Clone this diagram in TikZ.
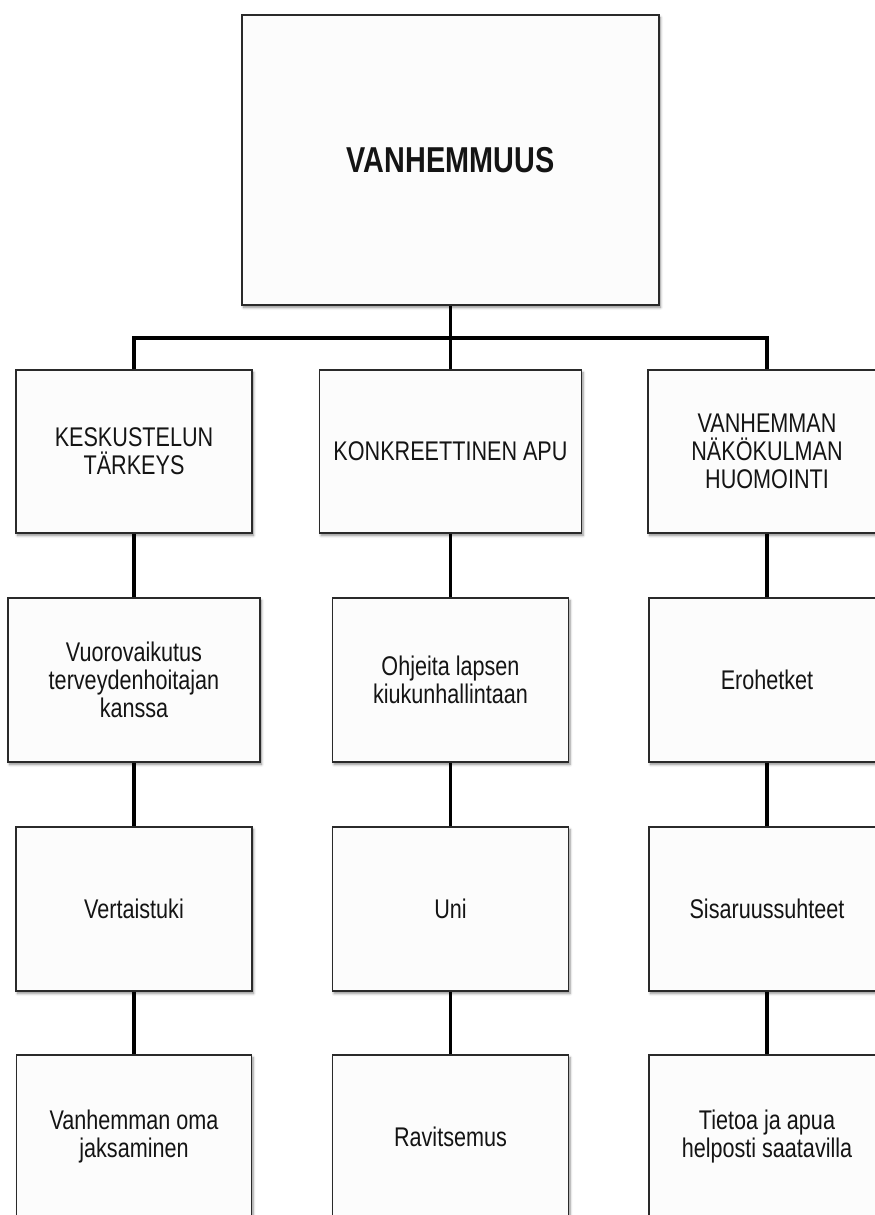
\documentclass[tikz,border=0pt]{standalone}
\usepackage{fontspec}
\setmainfont{Liberation Sans}[FakeStretch=0.8]
\usetikzlibrary{shadows.blur}
\definecolor{boxline}{HTML}{2A2A2A}
\definecolor{boxfill}{HTML}{FCFCFC}
\definecolor{ink}{HTML}{141414}
\begin{document}
\begin{tikzpicture}[x=1pt,y=-1pt,
  box/.style={draw=boxline, line width=1.8pt, fill=boxfill, text=ink,
    align=center, inner sep=0pt, minimum height=164pt,
    blur shadow={shadow xshift=1.5pt, shadow yshift=-2.5pt,
      shadow blur steps=6, shadow blur radius=2.5pt, shadow opacity=45},
    font=\fontsize{27}{28}\selectfont},
  link/.style={draw=black, line width=3.4pt}]
\useasboundingbox (0,0) rectangle (875,1215);
\clip (0,0) rectangle (875,1215);

% root
\node[box, minimum width=417pt, minimum height=290pt,
      font=\fontsize{36}{40}\selectfont\bfseries] (top) at (450.5,160) {VANHEMMUUS};

% first level
\node[box, minimum width=236pt, minimum height=163pt] (r1a) at (134,451.5) {KESKUSTELUN\\TÄRKEYS};
\node[box, minimum width=262pt, minimum height=163pt] (r1b) at (450.5,451.5) {KONKREETTINEN APU};
\node[box, minimum width=238pt, minimum height=163pt] (r1c) at (767,451.5) {VANHEMMAN\\NÄKÖKULMAN\\HUOMOINTI};

% second level
\node[box, minimum width=252pt] (r2a) at (134,680) {Vuorovaikutus\\terveydenhoitajan\\kanssa};
\node[box, minimum width=236pt] (r2b) at (450.5,680) {Ohjeita lapsen\\kiukunhallintaan};
\node[box, minimum width=236pt] (r2c) at (767,680) {Erohetket};

% third level
\node[box, minimum width=236pt] (r3a) at (134,909) {Vertaistuki};
\node[box, minimum width=236pt] (r3b) at (450.5,909) {Uni};
\node[box, minimum width=236pt] (r3c) at (767,909) {Sisaruussuhteet};

% fourth level
\node[box, minimum width=235pt] (r4a) at (134,1137) {Vanhemman oma\\jaksaminen};
\node[box, minimum width=236pt] (r4b) at (450.5,1137) {Ravitsemus};
\node[box, minimum width=236pt] (r4c) at (767,1137) {Tietoa ja apua\\helposti saatavilla};

% branching bar under the root
\coordinate (barL) at (134,338);
\coordinate (barR) at (767,338);
\draw[link] (top.south) -- (r1b.north);
\draw[link, line join=miter] (r1a.north) -- (barL) -- (barR) -- (r1c.north);

% column links
\foreach \c in {a,b,c}{
  \draw[link] (r1\c.south) -- (r2\c.north);
  \draw[link] (r2\c.south) -- (r3\c.north);
  \draw[link] (r3\c.south) -- (r4\c.north);
}
\end{tikzpicture}
\end{document}
